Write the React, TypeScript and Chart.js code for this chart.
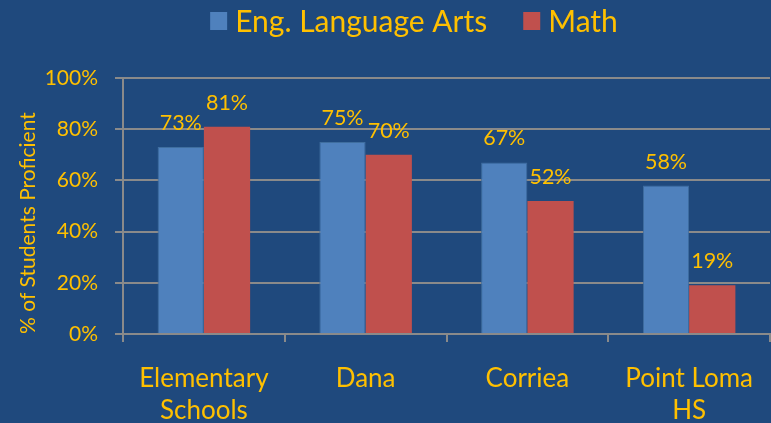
import React, { useEffect, useRef } from 'react';
import { Chart, registerables } from 'chart.js';

Chart.register(...registerables);

const categories: string[][] = [['Elementary', 'Schools'], ['Dana'], ['Corriea'], ['Point Loma', 'HS']];
const elaValues = [73, 75, 67, 58];
const mathValues = [81, 70, 52, 19];
const seriesNames = ['Eng. Language Arts', 'Math'];
const yAxisTitle = '% of Students Proficient';

const BG = '#1F497D';
const YELLOW = '#FFC000';
const GRID = '#8A8A8A';
const BLUE = '#4F81BD';
const RED = '#C0504D';
const FONT = 'Lato, "Open Sans", sans-serif';

const bgPlugin = {
  id: 'bgFill',
  beforeDraw(chart: any) {
    const ctx = chart.ctx;
    ctx.save();
    ctx.fillStyle = BG;
    ctx.fillRect(0, 0, chart.width, chart.height);
    ctx.restore();
  },
};

const legendPlugin = {
  id: 'customLegend',
  afterDraw(chart: any) {
    const ctx = chart.ctx;
    ctx.save();
    ctx.font = `30px ${FONT}`;
    const boxW = 17, boxH = 18, gap = 8, itemGap = 36;
    const items = chart.data.datasets.map((ds: any) => ({
      text: ds.label,
      color: ds.backgroundColor,
      w: ctx.measureText(ds.label).width,
    }));
    const total = items.reduce((s: number, it: any) => s + boxW + gap + it.w, 0) + itemGap * (items.length - 1);
    let x = 414 - total / 2;
    ctx.textBaseline = 'alphabetic';
    ctx.textAlign = 'left';
    for (const it of items) {
      ctx.fillStyle = it.color;
      ctx.fillRect(x, 12, boxW, boxH);
      ctx.fillStyle = YELLOW;
      ctx.fillText(it.text, x + boxW + gap, 32);
      x += boxW + gap + it.w + itemGap;
    }
    ctx.restore();
  },
};

const dataLabelPlugin = {
  id: 'dataLabels',
  afterDatasetsDraw(chart: any) {
    const ctx = chart.ctx;
    ctx.save();
    ctx.font = `21.5px ${FONT}`;
    ctx.fillStyle = YELLOW;
    ctx.textAlign = 'center';
    ctx.textBaseline = 'alphabetic';
    chart.data.datasets.forEach((ds: any, i: number) => {
      const meta = chart.getDatasetMeta(i);
      meta.data.forEach((el: any, j: number) => {
        ctx.fillText(`${ds.data[j]}%`, el.x, el.y - 17);
      });
    });
    ctx.restore();
  },
};

export default function App() {
  const ref = useRef<HTMLCanvasElement | null>(null);

  useEffect(() => {
    document.body.style.margin = '0';
    document.body.style.background = BG;
    const canvas = ref.current;
    if (!canvas) return;
    const chart = new Chart(canvas, {
      type: 'bar',
      data: {
        labels: categories,
        datasets: [
          {
            label: seriesNames[0],
            data: elaValues,
            backgroundColor: BLUE,
            borderColor: '#3F6E9F',
            borderWidth: 1,
            categoryPercentage: 0.572,
            barPercentage: 1,
          },
          {
            label: seriesNames[1],
            data: mathValues,
            backgroundColor: RED,
            borderColor: RED,
            borderWidth: 0,
            categoryPercentage: 0.572,
            barPercentage: 1,
          },
        ],
      },
      options: {
        responsive: false,
        animation: false,
        layout: { padding: { top: 78, right: 1, left: 0, bottom: 0 } },
        plugins: {
          legend: { display: false },
          tooltip: { enabled: false },
        },
        scales: {
          x: {
            grid: {
              display: true,
              drawOnChartArea: false,
              drawTicks: true,
              tickLength: 8,
              color: GRID,
              lineWidth: 2,
              offset: true,
            },
            border: { display: true, color: GRID, width: 2 },
            ticks: {
              color: YELLOW,
              font: { family: FONT, size: 26, lineHeight: 1.23 },
              padding: 21,
              maxRotation: 0,
              minRotation: 0,
              autoSkip: false,
            },
            afterFit: (s: any) => {
              s.height = 89;
              s.paddingLeft = 0;
              s.paddingRight = 0;
            },
          },
          y: {
            min: 0,
            max: 100,
            ticks: {
              stepSize: 20,
              callback: (v: any) => `${v}%`,
              color: YELLOW,
              font: { family: FONT, size: 21 },
              padding: 17,
            },
            grid: { color: GRID, lineWidth: 2, tickLength: 8 },
            border: { display: true, color: GRID, width: 2 },
            title: {
              display: true,
              text: yAxisTitle,
              color: YELLOW,
              font: { family: FONT, size: 21 },
              align: 'start',
              padding: { top: 16, bottom: 0 },
            },
            afterFit: (s: any) => {
              s.width = 123;
            },
          },
        },
      },
      plugins: [bgPlugin, dataLabelPlugin, legendPlugin],
    } as any);
    return () => chart.destroy();
  }, []);

  return (
    <canvas
      ref={ref}
      width={771}
      height={423}
      style={{ display: 'block', position: 'fixed', left: 0, top: 0 }}
    />
  );
}
